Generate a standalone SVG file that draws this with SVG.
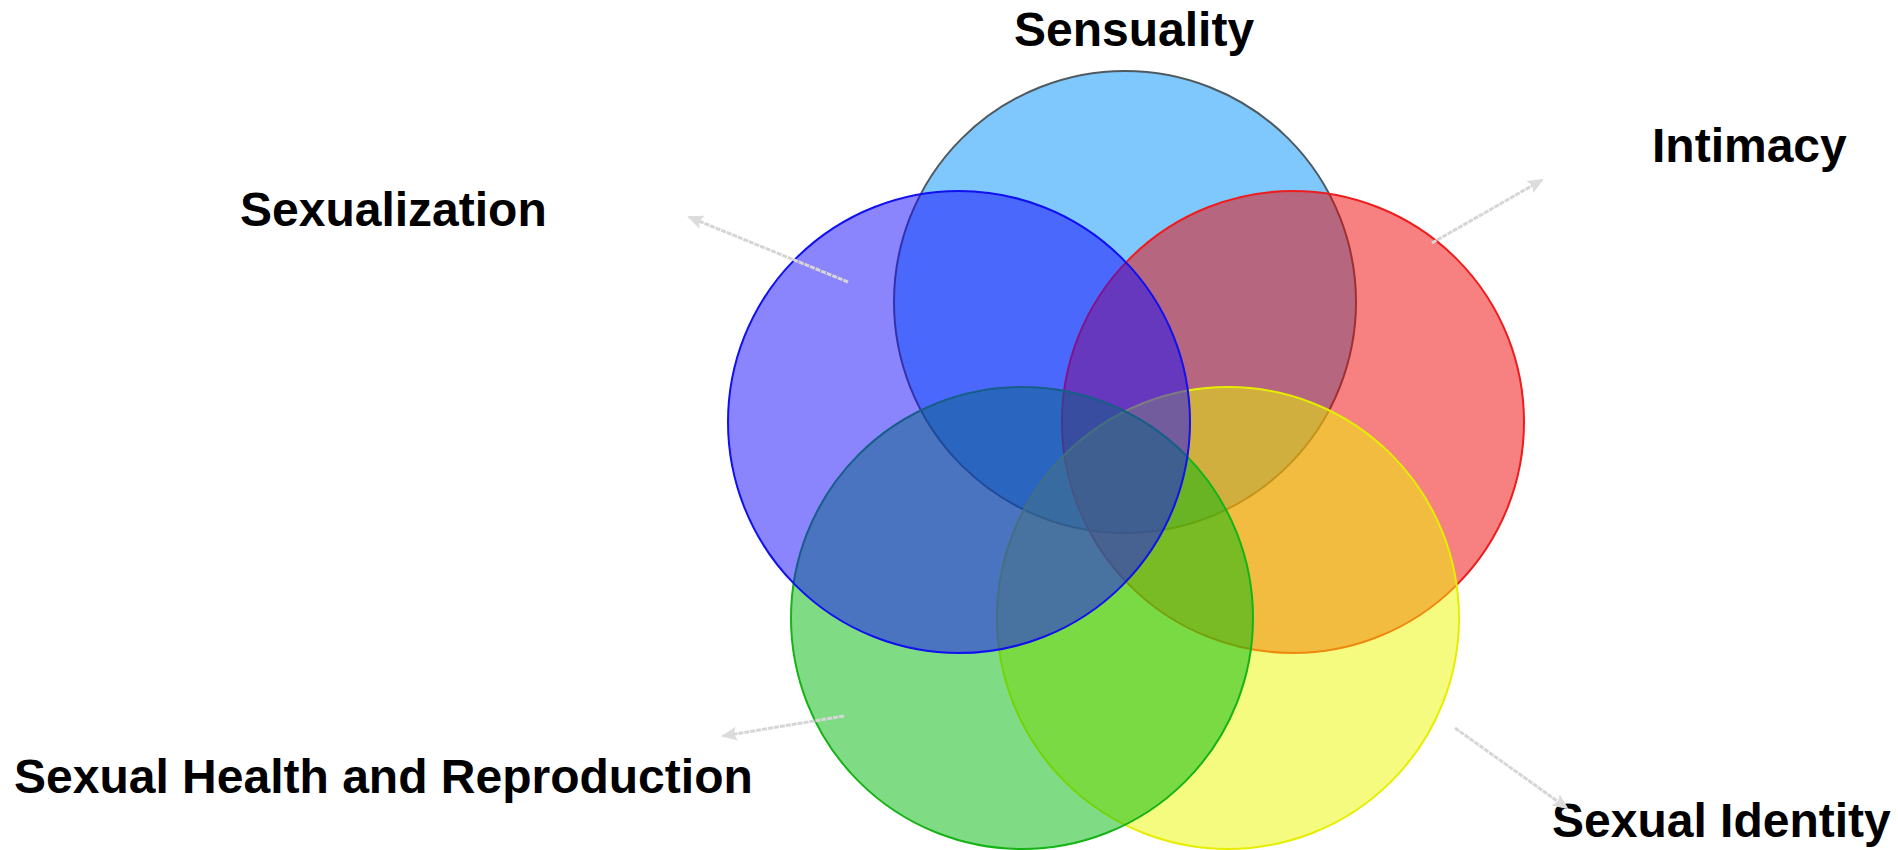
<svg xmlns="http://www.w3.org/2000/svg" width="1898" height="850" viewBox="0 0 1898 850">
<defs>
<style>
.c{fill-opacity:0.5;stroke-width:2}
.lbl{font-family:"Liberation Sans",Arial,sans-serif;font-weight:bold;font-size:48px;fill:#000}
.arr{stroke:#d6d6d6;stroke-width:3;fill:none;stroke-dasharray:5 1;marker-end:url(#ah)}
</style>
<marker id="ah" viewBox="0 0 16 16" refX="14" refY="8" markerWidth="16" markerHeight="16" markerUnits="userSpaceOnUse" orient="auto">
<path d="M0,1 L16,8 L0,15 L3,8 z" fill="#dcdcdc"/>
</marker>
</defs>
<rect width="1898" height="850" fill="#ffffff"/>
<g id="sensuality">
<circle class="c" cx="1125" cy="302" r="231" fill="#0091fb" stroke="#4f5a60"/>
<text class="lbl" x="1014" y="46">Sensuality</text>
</g>
<g id="intimacy">
<circle class="c" cx="1293" cy="422" r="231" fill="#ef0302" stroke="#ee1c1c"/>
<text class="lbl" x="1652" y="162">Intimacy</text>
</g>
<g id="sexual-identity">
<circle class="c" cx="1228" cy="618" r="231" fill="#ebf700" stroke="#e6ee00"/>
<text class="lbl" x="1552" y="837">Sexual Identity</text>
</g>
<g id="sexual-health">
<circle class="c" cx="1022" cy="618" r="231" fill="#00b909" stroke="#16b316"/>
<text class="lbl" x="14" y="793">Sexual Health and Reproduction</text>
</g>
<g id="sexualization">
<circle class="c" cx="959" cy="422" r="231" fill="#1509fb" stroke="#1010f0"/>
<text class="lbl" x="240" y="226">Sexualization</text>
</g>
<g id="connectors">
<line class="arr" x1="848" y1="282" x2="689" y2="217"/>
<line class="arr" x1="1432" y1="243" x2="1542" y2="180"/>
<line class="arr" x1="1455" y1="728" x2="1567" y2="808"/>
<line class="arr" x1="844" y1="716" x2="723" y2="736"/>
</g>
</svg>
